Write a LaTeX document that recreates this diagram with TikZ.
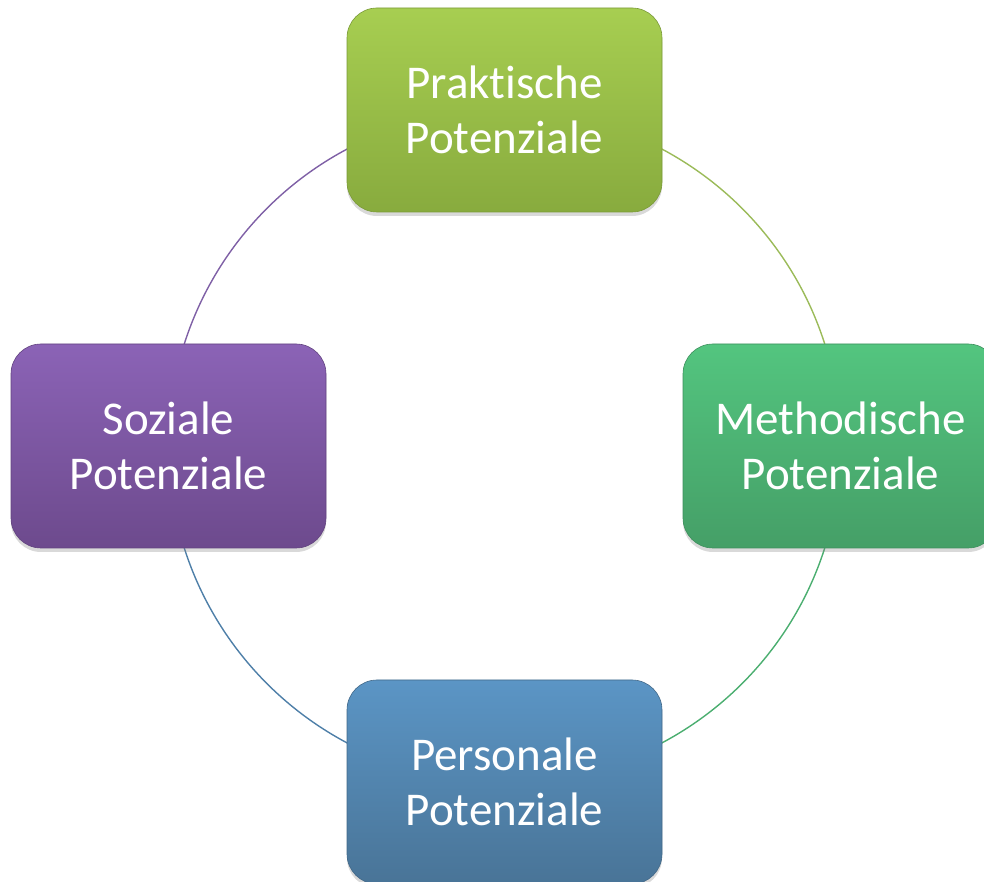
\documentclass[tikz,border=0pt]{standalone}
\usepackage{fontspec}
\setmainfont{Carlito}[Ligatures={NoCommon,NoRequired,NoContextual}]
\usetikzlibrary{shadows,backgrounds}
\definecolor{gTop}{HTML}{A7CE51}
\definecolor{gBot}{HTML}{88AB3E}
\definecolor{mTop}{HTML}{53C57F}
\definecolor{mBot}{HTML}{459F67}
\definecolor{bTop}{HTML}{5B95C5}
\definecolor{bBot}{HTML}{497497}
\definecolor{pTop}{HTML}{8B63B6}
\definecolor{pBot}{HTML}{6D4A8D}
\definecolor{arcG}{HTML}{9BBB59}
\definecolor{arcM}{HTML}{4BAE70}
\definecolor{arcB}{HTML}{4E7FA8}
\definecolor{arcP}{HTML}{7F60A6}
\tikzset{
  potbox/.style={rectangle, rounded corners=30pt, minimum width=315pt, minimum height=204pt,
    text=white, align=center, font=\fontsize{47}{55}\selectfont, line width=0.6pt,
    drop shadow={opacity=0.3, shadow xshift=0pt, shadow yshift=-4pt}},
  cyc/.style={line width=1.4pt},
}
\begin{document}
\begin{tikzpicture}[x=1pt,y=1pt]
\useasboundingbox (0,0) rectangle (984,882);
\coordinate (c) at (504.5,436);
\node[potbox, top color=gTop, bottom color=gBot, draw=gBot!90!black] (prak) at (504.5,772) {Prakt\kern0pt ische\\Potenziale};
\node[potbox, top color=mTop, bottom color=mBot, draw=mBot!90!black] (meth) at (840.5,436) {Methodische\\Potenziale};
\node[potbox, top color=bTop, bottom color=bBot, draw=bBot!90!black] (pers) at (504.5,100) {Personale\\Potenziale};
\node[potbox, top color=pTop, bottom color=pBot, draw=pBot!90!black] (soz) at (168.5,436) {Soziale\\Potenziale};
\begin{scope}[on background layer]
\draw[cyc, arcG] (prak.center) arc[start angle=90, end angle=0, radius=336];
\draw[cyc, arcM] (meth.center) arc[start angle=0, end angle=-90, radius=336];
\draw[cyc, arcB] (pers.center) arc[start angle=-90, end angle=-180, radius=336];
\draw[cyc, arcP] (soz.center) arc[start angle=180, end angle=90, radius=336];
\end{scope}
\end{tikzpicture}
\end{document}
